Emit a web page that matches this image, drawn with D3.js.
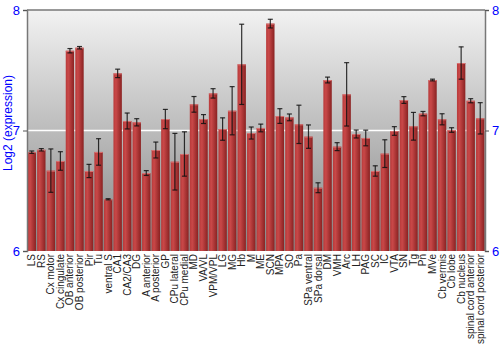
<!DOCTYPE html>
<meta charset="utf-8">
<html>
  <head>
    <script src="https://d3js.org/d3.v7.min.js"></script>
    <style>
      body { margin: 0; background: #fff; }
      text { font-family: Arial, "Liberation Sans", sans-serif; }
    </style>
  </head>
  <body>
    <div id="chart"></div>

    <script type="text/javascript">
      var regions = ["LS", "RS", "Cx motor", "Cx cingulate", "OB anterior", "OB posterior", "Pir", "Tu",
          "ventral S", "CA1", "CA2/CA3", "DG", "A anterior", "A posterior", "GP", "CPu lateral",
          "CPu medial", "MD", "VA/VL", "VPM/VPL", "LG", "MG", "Hb", "M", "ME", "SCN", "MPA", "SO",
          "Pa", "SPa ventral", "SPa dorsal", "DM", "VMH", "Arc", "LH", "PAG", "SC", "IC", "VTA",
          "SN", "Tg", "Pn", "MVe", "Cb vermis", "Cb lobe", "Cb nucleus",
          "spinal cord anterior", "spinal cord posterior"];

      var expression = [6.82, 6.84, 6.667, 6.747, 7.662, 7.687, 6.664, 6.822,
          6.429, 7.474, 7.079, 7.068, 6.647, 6.838, 7.095, 6.741,
          6.805, 7.217, 7.095, 7.308, 7.012, 7.164, 7.549, 6.979, 7.021, 7.887, 7.12, 7.109,
          7.051, 6.949, 6.525, 7.419, 6.866, 7.3, 6.971, 6.938, 6.664, 6.808, 6.996,
          7.253, 7.035, 7.14, 7.419, 7.093, 7.004, 7.56,
          7.247, 7.101];

      var errors = [0.01, 0.01, 0.18, 0.077, 0.018, 0.01, 0.055, 0.11,
          0.005, 0.035, 0.066, 0.03, 0.02, 0.066, 0.08, 0.235,
          0.184, 0.065, 0.037, 0.039, 0.093, 0.2, 0.333, 0.05, 0.032, 0.036, 0.061, 0.028,
          0.159, 0.097, 0.041, 0.024, 0.033, 0.263, 0.033, 0.065, 0.043, 0.115, 0.036,
          0.028, 0.115, 0.018, 0.007, 0.046, 0.019, 0.134,
          0.017, 0.13];

      var yTicks = [6, 7, 8];

      var data = regions.map(function(r, i) {
        return { label: r, value: expression[i], err: errors[i] };
      });

      var margin = { top: 10, right: 15, bottom: 99, left: 27 },
          width = 500 - margin.left - margin.right,
          height = 350 - margin.top - margin.bottom;

      var svg = d3.select("#chart").append("svg")
          .attr("width", 500)
          .attr("height", 350);

      var defs = svg.append("defs");

      var bg = defs.append("linearGradient")
          .attr("id", "bgGrad")
          .attr("x1", 0).attr("y1", 0).attr("x2", 0).attr("y2", 1);
      bg.append("stop").attr("offset", "0%").attr("stop-color", "#f2f2f2");
      bg.append("stop").attr("offset", "100%").attr("stop-color", "#858585");

      var barGrad = defs.append("linearGradient")
          .attr("id", "barGrad")
          .attr("x1", 0).attr("y1", 0).attr("x2", 1).attr("y2", 0);
      barGrad.append("stop").attr("offset", "0%").attr("stop-color", "#b83a3a");
      barGrad.append("stop").attr("offset", "30%").attr("stop-color", "#c94848");
      barGrad.append("stop").attr("offset", "100%").attr("stop-color", "#8a2222");

      var g = svg.append("g")
          .attr("transform", "translate(" + margin.left + "," + margin.top + ")");

      var x = d3.scaleBand()
          .domain(regions)
          .range([0, width])
          .paddingInner(0.12)
          .paddingOuter(0.06);

      var y = d3.scaleLinear()
          .domain([6, 8])
          .range([height, 0]);

      g.append("rect")
          .attr("width", width)
          .attr("height", height)
          .style("fill", "url(#bgGrad)");

      // white line at 7
      g.append("line")
          .attr("x1", 0).attr("x2", width)
          .attr("y1", y(7)).attr("y2", y(7))
          .style("stroke", "#ffffff")
          .style("stroke-width", "1.5px");

      g.selectAll(".bar")
          .data(data)
          .enter().append("rect")
          .attr("class", "bar")
          .attr("x", function(d) { return x(d.label); })
          .attr("width", x.bandwidth())
          .attr("y", function(d) { return y(d.value); })
          .attr("height", function(d) { return height - y(d.value); })
          .style("fill", "url(#barGrad)");

      g.selectAll(".bartop")
          .data(data)
          .enter().append("line")
          .attr("x1", function(d) { return x(d.label); })
          .attr("x2", function(d) { return x(d.label) + x.bandwidth(); })
          .attr("y1", function(d) { return y(d.value) + 0.5; })
          .attr("y2", function(d) { return y(d.value) + 0.5; })
          .style("stroke", "#d87070")
          .style("stroke-width", "1px");

      var eb = g.selectAll(".err")
          .data(data)
          .enter().append("g")
          .attr("class", "err")
          .style("stroke", "#111")
          .style("stroke-opacity", 0.85)
          .style("stroke-width", "1.2px");

      eb.append("line")
          .attr("x1", function(d) { return x(d.label) + x.bandwidth() / 2; })
          .attr("x2", function(d) { return x(d.label) + x.bandwidth() / 2; })
          .attr("y1", function(d) { return y(d.value + d.err); })
          .attr("y2", function(d) { return y(d.value - d.err); });

      [1, -1].forEach(function(s) {
        eb.append("line")
            .attr("x1", function(d) { return x(d.label) + x.bandwidth() / 2 - 2.5; })
            .attr("x2", function(d) { return x(d.label) + x.bandwidth() / 2 + 2.5; })
            .attr("y1", function(d) { return y(d.value + s * d.err); })
            .attr("y2", function(d) { return y(d.value + s * d.err); });
      });

      // frame: top, left, right
      g.append("line").attr("x1", 0).attr("x2", width).attr("y1", 0).attr("y2", 0)
          .style("stroke", "#777").style("stroke-width", "1.5px");

      var yAxisL = g.append("g")
          .call(d3.axisLeft(y).tickValues(yTicks).tickSize(4).tickFormat(d3.format("d")));
      var yAxisR = g.append("g")
          .attr("transform", "translate(" + width + ",0)")
          .call(d3.axisRight(y).tickValues(yTicks).tickSize(4).tickFormat(d3.format("d")));

      [yAxisL, yAxisR].forEach(function(ax) {
        ax.select(".domain").style("stroke", "#777").style("stroke-width", "1.5px");
        ax.selectAll(".tick line").style("stroke", "#555");
        ax.selectAll(".tick text")
            .style("fill", "#0000ff")
            .style("font-size", "13px");
      });

      var xAxis = g.append("g")
          .attr("transform", "translate(0," + height + ")")
          .call(d3.axisBottom(x).tickSize(0));
      xAxis.select(".domain").remove();
      xAxis.selectAll(".tick text")
          .style("font-size", "10px")
          .style("fill", "#222")
          .style("text-anchor", "end")
          .attr("dx", "-3px")
          .attr("dy", "0.35em")
          .attr("transform", "rotate(-90)")
          .attr("x", 0)
          .attr("y", 0);

      svg.append("text")
          .text("Log2 (expression)")
          .style("font-size", "12px")
          .style("fill", "#0000ff")
          .style("text-anchor", "middle")
          .attr("transform", "translate(12,123) rotate(-90)");
    </script>
  </body>
</html>
